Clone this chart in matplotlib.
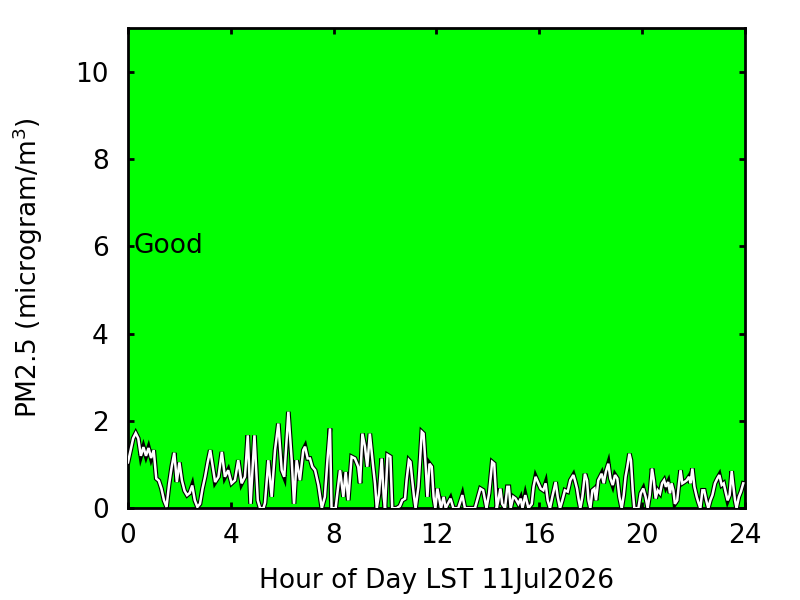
import matplotlib
matplotlib.use("Agg")
import matplotlib.pyplot as plt

hours = [0.0, 0.1, 0.2, 0.3, 0.4, 0.5, 0.6, 0.7, 0.8, 0.9, 1.0, 1.1, 1.2, 1.3, 1.4, 1.5, 1.6, 1.7, 1.8, 1.9,
         2.0, 2.1, 2.2, 2.3, 2.4, 2.5, 2.6, 2.7, 2.8, 2.9, 3.0, 3.1, 3.2,
         3.39, 3.52, 3.65, 3.77, 3.90, 4.03, 4.16, 4.29, 4.42, 4.55, 4.66, 4.77, 4.92, 5.05, 5.14, 5.27, 5.33,
         5.46, 5.59, 5.72, 5.85, 5.98, 6.08, 6.24, 6.37, 6.46, 6.56, 6.69, 6.82,
         6.89, 6.99, 7.08, 7.17, 7.28, 7.41, 7.54, 7.66, 7.76, 7.86, 7.92, 8.08, 8.25, 8.38, 8.47, 8.57,
         8.70, 8.83, 8.96, 9.03, 9.12, 9.22, 9.31, 9.41, 9.54, 9.61, 9.68, 9.77, 9.87, 9.95, 10.00, 10.10,
         10.21, 10.28,
         10.45, 10.58, 10.67, 10.78, 10.84, 10.93, 10.99, 11.06, 11.13, 11.19, 11.30, 11.43, 11.50, 11.58,
         11.65, 11.73, 11.82, 11.89, 11.96, 12.04, 12.10, 12.18, 12.28, 12.36, 12.55, 12.66, 12.85, 13.01,
         13.11, 13.50, 13.71, 13.82,
         13.95, 14.05, 14.17, 14.25, 14.35, 14.41, 14.49, 14.56, 14.67, 14.76, 14.82, 14.89, 14.99, 15.08,
         15.19, 15.28, 15.35, 15.46, 15.58, 15.71, 15.78, 15.86, 15.97, 16.06, 16.16, 16.25, 16.33, 16.42,
         16.51, 16.64, 16.72, 16.81, 16.90, 17.00, 17.11, 17.21, 17.33,
         17.39, 17.47, 17.54, 17.60, 17.68, 17.78, 17.86, 17.92, 17.99, 18.07, 18.15, 18.21, 18.30, 18.43,
         18.51, 18.59, 18.69, 18.77, 18.86, 18.95, 19.04, 19.12, 19.21, 19.29, 19.36, 19.43, 19.51, 19.57,
         19.64, 19.70, 19.86, 19.95, 20.05, 20.14, 20.22, 20.30, 20.39, 20.46, 20.53, 20.61, 20.70, 20.78,
         20.86,
         20.93, 21.02, 21.09, 21.15, 21.22, 21.28, 21.37, 21.44, 21.50, 21.57, 21.65, 21.74, 21.83, 21.89,
         21.96, 22.04, 22.13, 22.19, 22.27, 22.35, 22.42, 22.50, 22.58, 22.66, 22.74, 22.84, 22.93, 23.01,
         23.10, 23.18, 23.25, 23.33, 23.41, 23.49, 23.55, 23.62, 23.68, 23.77, 23.85, 23.94]

pm25 = [1.05, 1.33, 1.6, 1.72, 1.6, 1.2, 1.4, 1.2, 1.38, 1.15, 1.33, 0.68, 0.63, 0.45, 0.18, 0.03, 0.55, 0.95, 1.27, 0.6,
        1.05, 0.63, 0.4, 0.3, 0.35, 0.52, 0.18, 0.03, 0.1, 0.45, 0.72, 1.05, 1.33,
        0.6, 0.72, 1.29, 0.72, 0.87, 0.57, 0.64, 1.1, 0.57, 0.72, 1.67, 0.1, 1.67, 0.18, 0.0, 0.0, 0.12,
        1.1, 0.26, 1.33, 1.94, 0.87, 0.72, 2.21, 1.1, 0.1, 1.1, 0.64, 1.33,
        1.41, 1.14, 1.14, 0.95, 0.87, 0.53, 0.0, 0.26, 1.1, 1.83, 0.0, 0.0, 0.87, 0.26, 0.83, 0.18,
        1.18, 1.14, 0.95, 0.57, 1.71, 1.41, 0.95, 1.71, 0.95, 0.57, 0.0, 0.34, 1.14, 0.26, 0.0, 1.22,
        1.18, 0.0,
        0.0, 0.05, 0.18, 0.22, 0.64, 1.1, 1.06, 0.64, 0.26, 0.0, 0.49, 1.75, 1.71, 0.99,
        0.26, 1.02, 0.95, 0.26, 0.0, 0.45, 0.26, 0.0, 0.26, 0.0, 0.22, 0.0, 0.0, 0.3,
        0.0, 0.0, 0.45, 0.41,
        0.0, 0.34, 1.06, 1.02, 0.0, 0.18, 0.45, 0.1, 0.0, 0.49, 0.49, 0.0, 0.26, 0.22,
        0.1, 0.22, 0.0, 0.3, 0.0, 0.1, 0.49, 0.72, 0.57, 0.45, 0.41, 0.57, 0.18, 0.0,
        0.26, 0.6, 0.26, 0.0, 0.18, 0.41, 0.38, 0.64, 0.76,
        0.64, 0.45, 0.18, 0.0, 0.26, 0.79, 0.64, 0.18, 0.0, 0.41, 0.45, 0.18, 0.64, 0.79,
        0.57, 0.83, 1.02, 0.68, 0.53, 0.76, 0.68, 0.26, 0.0, 0.3, 0.72, 0.95, 1.25, 1.1,
        0.41, 0.0, 0.0, 0.34, 0.45, 0.26, 0.0, 0.3, 0.91, 0.64, 0.22, 0.41, 0.34, 0.57,
        0.64,
        0.49, 0.6, 0.34, 0.57, 0.41, 0.1, 0.18, 0.57, 0.87, 0.57, 0.6, 0.64, 0.72, 0.57,
        0.91, 0.49, 0.26, 0.14, 0.0, 0.41, 0.41, 0.18, 0.0, 0.18, 0.3, 0.57, 0.68, 0.76,
        0.53, 0.57, 0.38, 0.18, 0.3, 0.85, 0.53, 0.18, 0.0, 0.26, 0.38, 0.57]

x_ticks = [0, 4, 8, 12, 16, 20, 24]
y_ticks = [0, 2, 4, 6, 8, 10]
category_label = "Good"
date_label = "11Jul2026"

plt.rcParams['font.family'] = ['DejaVu Sans']
fig = plt.figure(figsize=(8, 6), dpi=100)
ax = fig.add_axes([0.16, 0.153, 0.771, 0.8])
ax.set_facecolor('#00ff00')

ax.plot(hours, pm25, color='black', lw=3.4, solid_joinstyle='miter', zorder=3)
ax.plot(hours, pm25, color='white', lw=1.8, solid_joinstyle='miter', zorder=4)

ax.set_xlim(0, 24)
ax.set_ylim(0, 11)
ax.set_xticks(x_ticks)
ax.set_yticks(y_ticks)
ax.tick_params(direction='in', length=4, width=2, labelsize=19,
               top=True, right=True, bottom=True, left=True)
ax.tick_params(axis='y', pad=14)
ax.tick_params(axis='x', pad=11)
for sp in ax.spines.values():
    sp.set_linewidth(2)
    sp.set_color('black')

ax.text(0.2, 6, category_label, fontsize=19, va='center', ha='left', zorder=5)
ax.set_xlabel("Hour of Day LST " + date_label, fontsize=19)
ax.set_ylabel("PM2.5 (microgram/m$^3$)", fontsize=19)
ax.xaxis.set_label_coords(0.5, -0.125)
ax.yaxis.set_label_coords(-0.135, 0.5)

fig.savefig("out.png", dpi=100)
